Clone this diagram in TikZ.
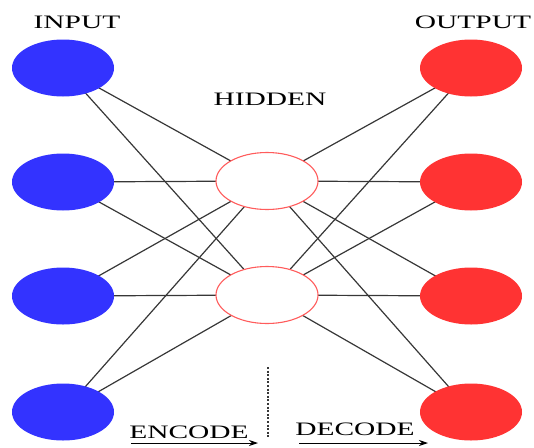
\documentclass[tikz,border=0pt]{standalone}
\usepackage{fontspec}
\setmainfont{Liberation Serif}
\usepackage{xcolor}
\usetikzlibrary{shapes.geometric, arrows, arrows.meta, positioning, backgrounds}
\definecolor{inblue}{RGB}{51,51,255}
\definecolor{outred}{RGB}{255,51,51}
\definecolor{edgegray}{RGB}{55,55,55}

\begin{document}
\begin{tikzpicture}[x=1pt, y=-1pt, every node/.style={font=\fontsize{19}{19}\selectfont}]
    % Define styles
    \tikzstyle{inputnode} = [ellipse, minimum width=102pt, minimum height=57pt, inner sep=0pt, fill=inblue]
    \tikzstyle{hiddennode} = [ellipse, minimum width=102pt, minimum height=57pt, inner sep=0pt, draw=outred!80, fill=white, line width=1.1pt]
    \tikzstyle{outputnode} = [ellipse, minimum width=102pt, minimum height=57pt, inner sep=0pt, fill=outred]
    \tikzstyle{layerlabel} = [xscale=1.55, inner sep=0pt]
    \tikzstyle{link} = [edgegray, line width=1.2pt]
    \tikzstyle{flow_arrow} = [black, line width=1pt, -{Stealth[length=9pt, width=6pt]}]

    \useasboundingbox (0,0) rectangle (534,447);

    % Input layer
    \node (in1) [inputnode] at (63, 68) {};
    \node (in2) [inputnode] at (63, 182) {};
    \node (in3) [inputnode] at (63, 296) {};
    \node (in4) [inputnode] at (63, 412) {};

    % Hidden layer
    \node (hid1) [hiddennode] at (267, 181) {};
    \node (hid2) [hiddennode] at (267, 295) {};

    % Output layer
    \node (out1) [outputnode] at (471, 68) {};
    \node (out2) [outputnode] at (471, 182) {};
    \node (out3) [outputnode] at (471, 296) {};
    \node (out4) [outputnode] at (471, 412) {};

    % Layer labels
    \node (inlabel) [layerlabel] at (77, 22) {INPUT};
    \node (hidlabel) [layerlabel] at (270, 99) {HIDDEN};
    \node (outlabel) [layerlabel] at (473, 22) {OUTPUT};
    \node (enclabel) [layerlabel] at (189, 432) {ENCODE};
    \node (declabel) [layerlabel] at (355, 429) {DECODE};

    % Connections behind the nodes
    \begin{scope}[on background layer]
        \draw [link] (in1.center) -- (hid1.center);
        \draw [link] (in1.center) -- (hid2.center);
        \draw [link] (in2.center) -- (hid1.center);
        \draw [link] (in2.center) -- (hid2.center);
        \draw [link] (in3.center) -- (hid1.center);
        \draw [link] (in3.center) -- (hid2.center);
        \draw [link] (in4.center) -- (hid1.center);
        \draw [link] (in4.center) -- (hid2.center);
        \draw [link] (hid1.center) -- (out1.center);
        \draw [link] (hid1.center) -- (out2.center);
        \draw [link] (hid1.center) -- (out3.center);
        \draw [link] (hid1.center) -- (out4.center);
        \draw [link] (hid2.center) -- (out1.center);
        \draw [link] (hid2.center) -- (out2.center);
        \draw [link] (hid2.center) -- (out3.center);
        \draw [link] (hid2.center) -- (out4.center);
    \end{scope}

    % Encode / decode arrows and divider
    \coordinate (encstart) at (131, 443);
    \coordinate (encend) at (258, 443);
    \coordinate (decstart) at (299, 443);
    \coordinate (decend) at (428, 443);
    \coordinate (divtop) at (268, 367);
    \coordinate (divbottom) at (268, 438);
    \draw [flow_arrow] (encstart) -- (encend);
    \draw [flow_arrow] (decstart) -- (decend);
    \draw [dash pattern=on 2pt off 1.6pt, line width=1.6pt, edgegray] (divtop) -- (divbottom);
\end{tikzpicture}
\end{document}
